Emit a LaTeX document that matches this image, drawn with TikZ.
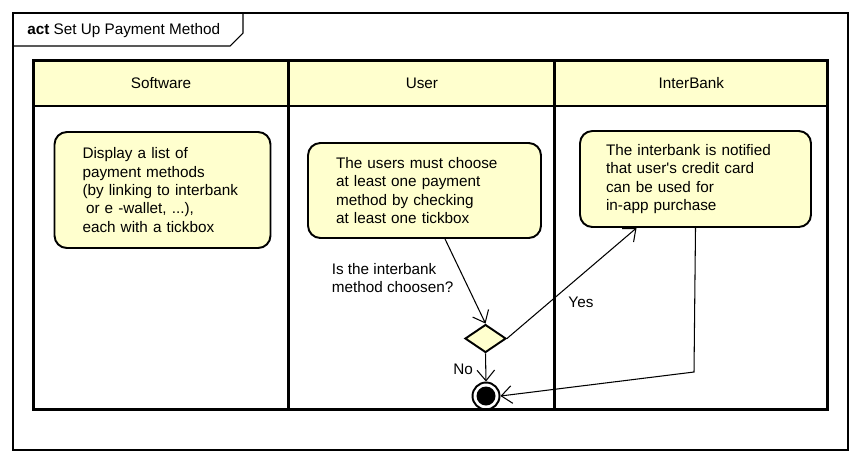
\documentclass[tikz,border=0pt]{standalone}
\usepackage{fontspec}
\setmainfont{Liberation Sans}
\usetikzlibrary{shapes.geometric, arrows.meta, positioning, calc}
\definecolor{actfill}{RGB}{255,255,206}
\definecolor{actdark}{RGB}{0,0,0}
\tikzset{
  actfont/.style={font=\fontsize{8.7}{10.5}\selectfont},
  lanehead/.style={rectangle, draw=actdark, fill=actfill, line width=1.7pt,
    minimum height=0.92cm, inner sep=0pt, outer sep=0pt, actfont},
  lanebody/.style={rectangle, draw=actdark, line width=1.7pt,
    minimum height=6.08cm, inner sep=0pt, outer sep=0pt},
  action/.style={rectangle, draw=actdark, fill=actfill, align=left,
    rounded corners=7pt, line width=1.1pt, inner xsep=0.56cm, actfont},
  decision/.style={diamond, draw=actdark, fill=actfill, line width=1.1pt,
    minimum width=0.82cm, minimum height=0.56cm, inner sep=0pt},
  finalnode/.style={circle, draw=actdark, line width=1.1pt, minimum size=0.54cm,
    inner sep=0pt, path picture={\fill[actdark] (path picture bounding box.center) circle (0.19cm);}},
  flow/.style={-{Straight Barb[length=6pt,width=10pt]}, line width=0.6pt, color=actdark},
  guardtext/.style={align=left, inner sep=2pt, actfont}
}

\begin{document}
\begin{tikzpicture}[x=0.02cm, y=-0.02cm]
  \useasboundingbox (0,0) rectangle (861,464);
  % frame and tab
  \draw[line width=0.6pt] (13,13) rectangle (848,450);
  \draw[line width=0.6pt] (13,46) -- (230,46) -- (243,33) -- (243,13);
  \node[anchor=west, inner sep=0pt, actfont] (title) at (27,31) {\textbf{act} Set Up Payment Method};
  % swimlanes
  \node[lanehead, minimum width=5.12cm] (hsoft) at (161,83) {Software};
  \node[lanehead, minimum width=5.32cm, right=0pt of hsoft] (huser) {User};
  \node[lanehead, minimum width=5.46cm, right=0pt of huser] (hbank) {InterBank};
  \node[lanebody, minimum width=5.12cm, below=0pt of hsoft] (lsoft) {};
  \node[lanebody, minimum width=5.32cm, below=0pt of huser] (luser) {};
  \node[lanebody, minimum width=5.46cm, below=0pt of hbank] (lbank) {};
  % actions
  \node[action, text width=3.2cm, minimum height=2.32cm] (soft) at (162.5,190)
       {Display a list of\\payment methods\\(by linking to interbank\\\hspace*{2pt}or e -wallet, ...),\\each with a tickbox};
  \node[action, text width=3.54cm, minimum height=1.9cm] (user) at (424.5,190.5)
       {The users must choose\\at least one payment\\method by checking\\at least one tickbox};
  \node[action, text width=3.58cm, minimum height=1.92cm, inner xsep=0.52cm] (bank) at (695.5,179)
       {The interbank is notified\\that user\textquotesingle s credit card\\can be used for\\in-app purchase};
  % decision and end
  \node[decision] (dec) at (485.5,338.5) {};
  \node[finalnode] (end) at (486,396) {};
  \node[guardtext, anchor=west] (guard) at (328,278) {Is the interbank\\method choosen?};
  \coordinate (bend) at (694,372);
  % flows
  \draw[flow] ([xshift=0.41cm]user.south) -- (dec.north);
  \draw[flow] (dec.east) -- node[pos=0.43, anchor=north west, actfont, inner sep=3pt] {Yes} ([xshift=-1.18cm]bank.south);
  \draw[flow] (dec.south) -- node[pos=0.55, left=7pt, actfont, inner sep=0pt] {No} (end.north);
  \draw[flow] (bank.south) -- (bend) -- (end.east);
\end{tikzpicture}
\end{document}
